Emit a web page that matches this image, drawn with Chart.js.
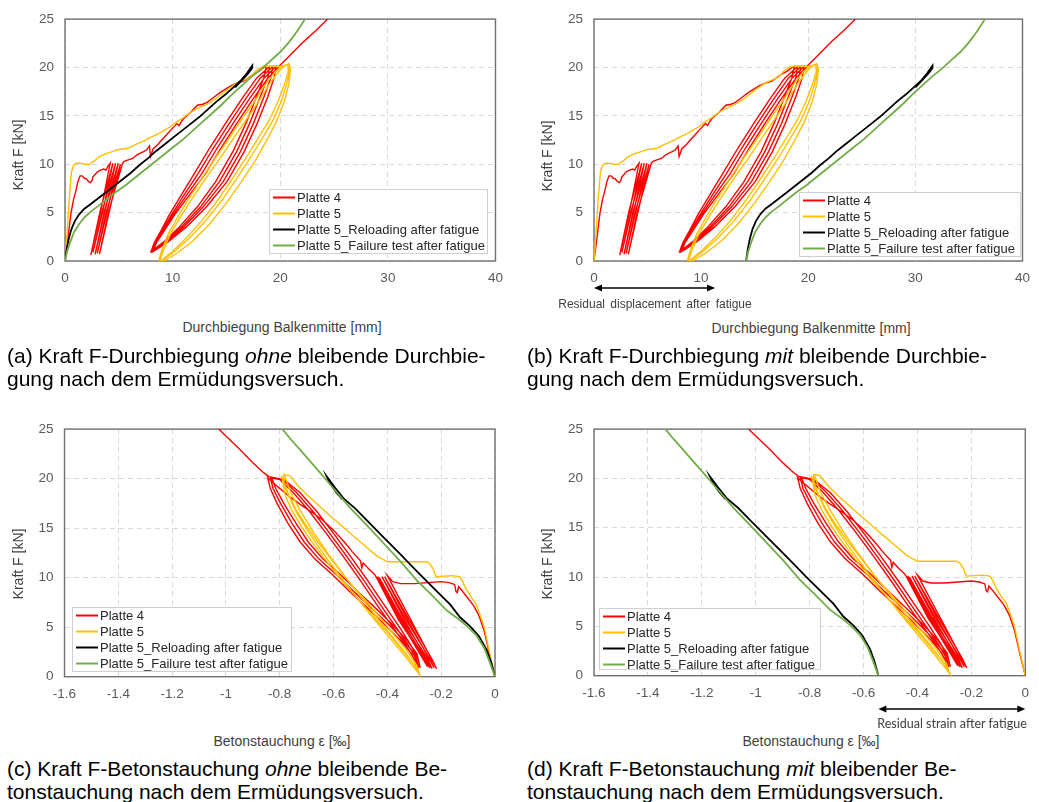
<!DOCTYPE html>
<html>
<head>
<meta charset="utf-8">
<script src="https://cdn.jsdelivr.net/npm/chart.js@4.4.1/dist/chart.umd.min.js"></script>
<style>
    body { margin: 0; background: #fff; width: 1039px; height: 802px; position: relative; overflow: hidden;
           font-family: "Liberation Sans", Arial, sans-serif; }
    canvas { position: absolute; }
    .ytitle { position: absolute; transform: translate(-50%, -50%) rotate(-90deg); font-size: 14px; color: #404040; white-space: nowrap; }
    .xtitle { position: absolute; transform: translate(-50%, -50%); font-size: 14px; color: #404040; white-space: nowrap; }
    .note { position: absolute; transform: translate(-50%, -50%); color: #404040; white-space: nowrap; }
    .cap { position: absolute; font-size: 21px; line-height: 23px; color: #000; white-space: nowrap; }
</style>
</head>
<body>
<canvas id="chartA" width="520" height="300" style="left:0px;top:0px"></canvas>
<canvas id="chartB" width="519" height="300" style="left:520px;top:0px"></canvas>
<canvas id="chartC" width="520" height="300" style="left:0px;top:410px"></canvas>
<canvas id="chartD" width="519" height="310" style="left:520px;top:410px"></canvas>

<div class="ytitle" style="left:18px;top:155px">Kraft F [kN]</div>
<div class="ytitle" style="left:547px;top:156px">Kraft F [kN]</div>
<div class="ytitle" style="left:18px;top:564px">Kraft F [kN]</div>
<div class="ytitle" style="left:547px;top:564px">Kraft F [kN]</div>

<div class="xtitle" style="left:282px;top:327px">Durchbiegung Balkenmitte [mm]</div>
<div class="xtitle" style="left:811px;top:328px">Durchbiegung Balkenmitte [mm]</div>
<div class="xtitle" style="left:282px;top:741px">Betonstauchung ε [‰]</div>
<div class="xtitle" style="left:811px;top:741px">Betonstauchung ε [‰]</div>

<div class="note" style="left:655px;top:304px;font-size:12px;word-spacing:2px">Residual displacement after fatigue</div>
<div class="note" style="left:952px;top:723px;font-size:12.5px;font-family:Lato,sans-serif">Residual strain after fatigue</div>

<div class="cap" style="left:7px;top:344px">(a) Kraft F-Durchbiegung <i>ohne</i> bleibende Durchbie-<br>gung nach dem Ermüdungsversuch.</div>
<div class="cap" style="left:527px;top:344px">(b) Kraft F-Durchbiegung <i>mit</i> bleibende Durchbie-<br>gung nach dem Ermüdungsversuch.</div>
<div class="cap" style="left:7px;top:757px">(c) Kraft F-Betonstauchung <i>ohne</i> bleibende Be-<br>tonstauchung nach dem Ermüdungsversuch.</div>
<div class="cap" style="left:527px;top:757px">(d) Kraft F-Betonstauchung <i>mit</i> bleibender Be-<br>tonstauchung nach dem Ermüdungsversuch.</div>

<script>
// ---- data: [x, F] pairs ----
const seriesLabels = ['Platte 4', 'Platte 5', 'Platte 5_Reloading after fatigue', 'Platte 5_Failure test after fatigue'];

const forceTicks = [0, 5, 10, 15, 20, 25];
const deflTicks = [0, 10, 20, 30, 40];
const strainTicks = [-1.6, -1.4, -1.2, -1, -0.8, -0.6, -0.4, -0.2, 0];
const strainTickLabels = ['-1.6', '-1.4', '-1.2', '-1', '-0.8', '-0.6', '-0.4', '-0.2', '0'];

// arrows under panels (b) and (d), in axis units
const residualDispArrow = [0, 11.3];
const residualStrainArrow = [-0.545, 0];

// Kraft F - Durchbiegung [mm]
const platte4Defl = [
    [0,0],[0.3,2.6],[0.55,4.9],[0.8,6.4],[1.0,7.2],[1.2,8.2],[1.4,8.8],[1.6,8.8],[1.8,8.55],[2.0,8.5],[2.1,8.3],[2.35,8.1],[2.5,8.3],[2.6,8.7],[3.0,9.2],[3.3,9.4],[3.6,9.5],[3.8,9.4],[4.0,9.8],[4.2,10.1],
    [3.35,5.3],[2.4,0.6],[3.25,5.1],[4.45,10.1],
    [3.55,5.3],[2.6,0.9],[3.45,5.1],[4.7,10.1],
    [3.75,5.3],[2.8,0.7],[3.65,5.1],[4.95,10.1],
    [3.95,5.3],[3.0,0.8],[3.85,5.1],[5.15,10.0],
    [4.15,5.3],[3.2,0.7],[4.05,5.1],[5.35,10.1],
    [5.5,10.3],[6.0,10.5],[6.3,10.6],[6.6,10.9],[6.9,11.1],[7.3,11.3],[7.6,11.5],[7.85,11.9],[7.95,10.8],[8.2,11.6],[8.6,12.0],[8.9,12.4],[9.4,13.0],[9.8,13.5],[10.4,14.2],[10.6,14.0],[10.75,14.3],[11.0,14.7],[11.7,15.4],[12.3,16.1],[12.8,16.2],[13.2,16.4],[13.8,16.9],[14.4,17.4],[15.4,18.1],[16.0,18.4],[16.6,18.6],[17.5,19.3],[18.0,19.6],[18.5,20.0],[18.7,20.1],
    [18.5,19.0],[17.8,17.0],[16.8,14.2],[15.6,11.3],[14.0,8.2],[12.3,5.6],[10.6,3.5],[9.2,2.0],[8.3,1.2],[8.0,1.0],
    [8.3,1.9],[8.9,3.1],[9.7,4.8],[10.8,6.8],[12.0,9.0],[13.4,11.6],[14.9,14.2],[16.4,16.7],[17.8,18.9],[18.9,20.0],[19.0,20.1],
    [18.85,19.0],[18.15,17.0],[17.15,14.2],[15.95,11.3],[14.35,8.2],[12.6,5.6],[10.8,3.5],[9.35,2.0],[8.35,1.2],[8.07,1.0],
    [8.37,1.9],[9.0,3.1],[9.9,4.8],[11.05,6.8],[12.35,9.0],[13.75,11.6],[15.25,14.2],[16.75,16.7],[18.15,18.9],[19.2,20.0],[19.3,20.1],
    [19.15,19.0],[18.5,17.0],[17.5,14.2],[16.3,11.3],[14.7,8.2],[12.85,5.6],[11.0,3.5],[9.5,2.0],[8.45,1.2],[8.14,1.0],
    [8.44,1.9],[9.1,3.1],[10.05,4.8],[11.3,6.8],[12.7,9.0],[14.1,11.6],[15.6,14.2],[17.1,16.7],[18.5,18.9],[19.5,20.0],[19.6,20.1],
    [19.45,19.0],[18.85,17.0],[17.85,14.2],[16.65,11.3],[15.05,8.2],[13.15,5.6],[11.25,3.5],[9.6,2.0],[8.5,1.2],[8.2,1.0],
    [8.5,1.9],[9.2,3.1],[10.2,4.8],[11.55,6.8],[13.05,9.0],[14.45,11.6],[15.95,14.2],[17.45,16.7],[18.85,18.9],[19.8,20.0],
    [19.95,20.2],[20.5,20.8],[21.3,21.7],[22.2,22.7],[23.3,23.8],[24.4,25.0],[24.6,25.2]
];

const platte5Defl = [
    [0,0],[0.2,3.0],[0.4,6.5],[0.6,9.2],[0.8,9.9],[1.1,10.1],[1.5,10.1],[1.8,10.0],[2.3,10.0],[2.5,10.2],[2.8,10.4],[3.2,10.8],[3.8,11.1],[4.4,11.3],[4.9,11.5],[5.5,11.6],[5.9,11.65],[6.3,11.9],[6.7,12.1],[7.3,12.4],[8.0,12.8],[8.6,13.1],[9.2,13.5],[9.8,13.9],[10.4,14.4],[11.0,14.8],[11.7,15.4],[12.4,15.8],[13.2,16.2],[13.8,16.6],[14.4,17.1],[15.2,17.8],[16.0,18.4],[16.6,18.7],[17.2,19.0],[17.8,19.7],[18.2,20.0],[18.5,20.1],[19.2,20.15],[20.0,20.1],[20.5,20.2],[20.8,20.4],
    [20.9,20.0],[20.85,19.5],[20.6,18.3],[20.1,16.5],[19.3,14.5],[18.4,12.8],[17.3,10.8],[16.0,8.6],[14.6,6.3],[13.1,4.2],[11.6,2.4],[10.2,1.0],[9.1,0.1],
    [8.8,0.0],[9.2,1.3],[9.8,2.8],[10.8,4.7],[11.9,6.6],[13.1,8.6],[14.4,10.6],[15.6,12.6],[16.9,14.7],[18.0,16.5],[19.0,18.3],[19.8,19.5],[20.4,20.2],[20.7,20.3],
    [20.75,19.6],[20.4,18.3],[19.8,16.5],[18.95,14.5],[18.0,12.8],[16.9,10.8],[15.6,8.6],[14.2,6.3],[12.75,4.2],[11.3,2.4],[10.0,1.0],[9.0,0.1],
    [8.7,0.0],[9.05,1.3],[9.6,2.8],[10.55,4.7],[11.6,6.6],[12.75,8.6],[13.95,10.6],[15.2,12.6],[16.45,14.7],[17.6,16.5],[18.65,18.3],[19.5,19.5],[20.2,20.2],[20.8,20.3],
    [20.95,19.8],[20.8,18.3],[20.35,16.4],[19.6,14.3],[18.75,12.5],[17.7,10.4],[16.4,8.2],[15.0,6.0],[13.5,3.9],[11.9,2.1],[10.4,0.8],[9.2,0.0]
];

const reloadDeflA = [
    [0,0],[0.15,1.2],[0.35,2.3],[0.6,3.3],[0.9,4.1],[1.3,4.8],[1.8,5.4],[2.4,5.9],[3.0,6.4],[3.7,7.0],[4.5,7.7],[5.3,8.4],[6.1,9.1],[6.9,9.9],[7.7,10.6],[8.5,11.4],[9.3,12.1],[10.1,12.8],[10.9,13.5],[11.7,14.2],[12.5,14.9],[13.3,15.7],[14.1,16.5],[14.9,17.2],[15.6,17.9],[16.3,18.6],[16.9,19.4],[17.4,20.2],
    [17.4,19.95],[17.0,19.35],[16.4,18.65],[15.8,17.95]
];
const failureDeflA = [
    [0,0],[0.2,1.0],[0.5,2.0],[0.85,3.0],[1.3,3.8],[1.8,4.5],[2.4,5.1],[3.1,5.7],[3.9,6.4],[4.7,7.1],[5.6,7.8],[6.5,8.6],[7.4,9.4],[8.3,10.2],[9.2,11.0],[10.1,11.8],[11.0,12.6],[11.9,13.5],[12.8,14.4],[13.7,15.3],[14.6,16.2],[15.5,17.2],[16.4,18.1],[17.3,19.0],[18.2,19.8],[19.1,20.7],[20.0,21.6],[20.8,22.6],[21.6,23.8],[22.3,25.0]
];
const reloadDeflB = [
    [14.2,0],[14.35,1.2],[14.55,2.3],[14.8,3.3],[15.1,4.1],[15.5,4.8],[16.0,5.4],[16.6,5.9],[17.2,6.4],[17.9,7.0],[18.7,7.7],[19.5,8.4],[20.3,9.1],[21.1,9.9],[21.9,10.6],[22.7,11.4],[23.5,12.1],[24.3,12.8],[25.1,13.5],[25.9,14.2],[26.7,14.9],[27.5,15.7],[28.3,16.5],[29.1,17.2],[29.8,17.9],[30.5,18.6],[31.1,19.4],[31.6,20.2],
    [31.6,19.95],[31.2,19.35],[30.6,18.65],[30.0,17.95]
];
const failureDeflB = [
    [14.2,0],[14.4,1.0],[14.7,2.0],[15.05,3.0],[15.5,3.8],[16.0,4.5],[16.6,5.1],[17.3,5.7],[18.1,6.4],[18.9,7.1],[19.8,7.8],[20.7,8.6],[21.6,9.4],[22.5,10.2],[23.4,11.0],[24.3,11.8],[25.2,12.6],[26.1,13.5],[27.0,14.4],[27.9,15.3],[28.8,16.2],[29.7,17.2],[30.6,18.1],[31.5,19.0],[32.4,19.8],[33.3,20.7],[34.2,21.6],[35.0,22.6],[35.8,23.8],[36.5,25.0]
];

// Kraft F - Betonstauchung [permille]
const platte4Strain = [
    [0,0],[-0.02,2.2],[-0.04,4.6],[-0.06,6.2],[-0.08,7.2],[-0.1,7.9],[-0.12,8.6],[-0.135,9.1],[-0.14,8.5],[-0.145,8.6],[-0.15,9.3],[-0.17,9.5],[-0.2,9.6],[-0.25,9.5],[-0.3,9.4],[-0.35,9.4],[-0.38,9.6],[-0.40,10.2],
    [-0.31,5.6],[-0.217,0.8],[-0.235,1.8],[-0.32,5.8],[-0.41,10.1],
    [-0.322,5.6],[-0.226,0.9],[-0.242,1.8],[-0.332,5.8],[-0.42,10.1],
    [-0.334,5.6],[-0.234,0.8],[-0.25,1.8],[-0.344,5.8],[-0.43,10.0],
    [-0.344,5.6],[-0.242,0.9],[-0.258,1.8],[-0.352,5.8],[-0.436,10.1],
    [-0.352,5.6],[-0.25,1.0],[-0.266,1.9],[-0.36,5.8],[-0.442,10.1],
    [-0.45,10.4],[-0.47,10.9],[-0.49,11.5],[-0.495,11.0],[-0.50,11.7],[-0.53,12.6],[-0.56,13.6],[-0.60,14.8],[-0.64,15.8],[-0.68,16.6],[-0.724,17.4],[-0.76,18.1],[-0.8,19.0],[-0.83,19.7],[-0.845,20.1],
    [-0.835,19.0],[-0.81,17.5],[-0.77,15.5],[-0.724,13.6],[-0.67,11.9],[-0.6,10.2],[-0.54,8.6],[-0.477,7.0],[-0.415,5.4],[-0.353,3.7],[-0.31,2.3],[-0.29,1.0],
    [-0.3,1.8],[-0.335,3.3],[-0.38,5.0],[-0.44,7.3],[-0.5,9.7],[-0.56,12.0],[-0.625,14.4],[-0.69,16.7],[-0.75,18.6],[-0.8,19.9],[-0.835,20.1],
    [-0.825,19.0],[-0.797,17.5],[-0.755,15.5],[-0.709,13.6],[-0.655,11.9],[-0.585,10.2],[-0.525,8.6],[-0.462,7.0],[-0.4,5.4],[-0.34,3.7],[-0.3,2.3],[-0.284,0.9],
    [-0.293,1.8],[-0.325,3.3],[-0.368,5.0],[-0.427,7.3],[-0.487,9.7],[-0.547,12.0],[-0.612,14.4],[-0.677,16.7],[-0.738,18.6],[-0.79,19.9],[-0.83,20.1],
    [-0.815,19.0],[-0.785,17.5],[-0.74,15.5],[-0.694,13.6],[-0.64,11.9],[-0.57,10.2],[-0.51,8.6],[-0.447,7.0],[-0.386,5.4],[-0.328,3.7],[-0.29,2.3],[-0.278,0.9],
    [-0.287,1.8],[-0.315,3.3],[-0.355,5.0],[-0.413,7.3],[-0.473,9.7],[-0.533,12.0],[-0.598,14.4],[-0.663,16.7],[-0.725,18.6],[-0.785,19.9],[-0.84,20.2],
    [-0.86,20.6],[-0.9,21.6],[-0.95,23.0],[-1.0,24.3],[-1.03,25.1]
];

const platte5Strain = [
    [0,0],[-0.01,1.2],[-0.02,2.4],[-0.03,3.7],[-0.039,4.9],[-0.055,6.2],[-0.07,7.3],[-0.085,7.9],[-0.095,8.3],[-0.11,9.0],[-0.12,9.6],[-0.131,10.1],[-0.16,10.2],[-0.19,10.15],[-0.218,10.1],[-0.225,10.5],[-0.23,10.9],[-0.245,11.5],[-0.256,11.6],[-0.3,11.6],[-0.35,11.6],[-0.40,11.6],[-0.44,12.2],[-0.487,13.3],[-0.535,14.4],[-0.585,15.6],[-0.64,16.9],[-0.696,18.3],[-0.73,19.2],[-0.763,20.3],[-0.785,20.4],
    [-0.79,19.8],[-0.78,18.3],[-0.755,16.8],[-0.72,15.2],[-0.68,13.6],[-0.63,11.8],[-0.58,10.0],[-0.52,8.2],[-0.46,6.3],[-0.40,4.5],[-0.345,2.7],[-0.3,1.2],[-0.276,0],
    [-0.29,0.8],[-0.33,2.3],[-0.38,4.0],[-0.44,6.0],[-0.5,8.1],[-0.56,10.2],[-0.62,12.4],[-0.675,14.6],[-0.72,16.6],[-0.76,18.6],[-0.78,20.2],
    [-0.785,19.6],[-0.765,18.3],[-0.738,16.8],[-0.7,15.2],[-0.658,13.6],[-0.607,11.8],[-0.556,10.0],[-0.497,8.2],[-0.437,6.3],[-0.383,4.5],[-0.33,2.7],[-0.292,1.2],[-0.28,0.2],
    [-0.3,0.9],[-0.345,2.4],[-0.397,4.1],[-0.458,6.1],[-0.52,8.2],[-0.58,10.3],[-0.64,12.5],[-0.695,14.7],[-0.74,16.7],[-0.775,18.7],[-0.795,20.3]
];

const reloadStrainC = [
    [0,0],[-0.015,1.5],[-0.031,2.7],[-0.06,4.1],[-0.093,5.1],[-0.13,6.0],[-0.167,7.3],[-0.215,8.6],[-0.267,10.0],[-0.31,11.2],[-0.353,12.4],[-0.415,14.1],[-0.477,15.8],[-0.52,17.0],[-0.563,18.0],[-0.595,19.1],[-0.625,20.2],
    [-0.615,19.6],[-0.59,18.6],[-0.567,17.9]
];
const failureStrainC = [
    [0,0],[-0.02,1.5],[-0.04,2.9],[-0.07,4.2],[-0.1,5.0],[-0.13,5.7],[-0.18,6.7],[-0.23,8.1],[-0.29,9.7],[-0.353,11.7],[-0.415,13.5],[-0.477,15.3],[-0.54,17.1],[-0.6,19.0],[-0.66,20.9],[-0.724,22.9],[-0.76,24.0],[-0.79,25.0]
];
const reloadStrainD = [
    [-0.545,0],[-0.56,1.5],[-0.576,2.7],[-0.605,4.1],[-0.638,5.1],[-0.675,6.0],[-0.712,7.3],[-0.76,8.6],[-0.812,10.0],[-0.855,11.2],[-0.898,12.4],[-0.96,14.1],[-1.022,15.8],[-1.065,17.0],[-1.108,18.0],[-1.14,19.1],[-1.17,20.2],
    [-1.16,19.6],[-1.135,18.6],[-1.112,17.9]
];
const failureStrainD = [
    [-0.545,0],[-0.565,1.5],[-0.585,2.9],[-0.615,4.2],[-0.645,5.0],[-0.675,5.7],[-0.725,6.7],[-0.775,8.1],[-0.835,9.7],[-0.898,11.7],[-0.96,13.5],[-1.022,15.3],[-1.085,17.1],[-1.145,19.0],[-1.205,20.9],[-1.269,22.9],[-1.305,24.0],[-1.335,25.0]
];

// ---- drawing ----
Chart.defaults.font.family = '"Liberation Sans", Arial, sans-serif';
Chart.defaults.color = '#595959';

const seriesColors = ['#ff0000', '#ffc000', '#000000', '#70ad47'];
const seriesWidths = [1.4, 1.4, 1.8, 1.8];

function toPoints(arr) {
    return arr.map(p => ({ x: p[0], y: p[1] }));
}

function buildDatasets(lists) {
    return lists.map((list, i) => ({
        label: seriesLabels[i],
        data: toPoints(list),
        borderColor: seriesColors[i],
        backgroundColor: seriesColors[i],
        borderWidth: seriesWidths[i],
        pointRadius: 0,
        showLine: true,
        fill: false,
        tension: 0,
        order: 4 - i   // green drawn on top, like the spreadsheet
    }));
}

// full box around the plot area
const framePlugin = {
    id: 'plotFrame',
    beforeDatasetsDraw(chart) {
        const a = chart.chartArea, ctx = chart.ctx;
        ctx.save();
        ctx.strokeStyle = '#707070';
        ctx.lineWidth = 1.4;
        ctx.strokeRect(a.left, a.top, a.right - a.left, a.bottom - a.top);
        ctx.restore();
    }
};

// legend box inside the plot, x/y in canvas pixels
function boxLegend(box) {
    return {
        id: 'boxLegend',
        afterDatasetsDraw(chart) {
            const ctx = chart.ctx;
            ctx.save();
            ctx.fillStyle = '#ffffff';
            ctx.fillRect(box.x, box.y, box.w, box.h);
            ctx.strokeStyle = '#d0d0d0';
            ctx.lineWidth = 1;
            ctx.strokeRect(box.x + 0.5, box.y + 0.5, box.w, box.h);
            ctx.font = '13px "Liberation Sans", Arial, sans-serif';
            ctx.textBaseline = 'middle';
            chart.data.datasets.forEach((ds, i) => {
                const y = box.y + 8.5 + i * 16;
                ctx.strokeStyle = ds.borderColor;
                ctx.lineWidth = 2;
                ctx.beginPath();
                ctx.moveTo(box.x + 4, y);
                ctx.lineTo(box.x + 26, y);
                ctx.stroke();
                ctx.fillStyle = '#262626';
                ctx.fillText(ds.label, box.x + 28, y + 0.5);
            });
            ctx.restore();
        }
    };
}

// double headed arrow below the x axis
function underArrow(range, y) {
    return {
        id: 'underArrow',
        afterDraw(chart) {
            const sx = chart.scales.x, ctx = chart.ctx;
            const x0 = sx.getPixelForValue(range[0]);
            const x1 = sx.getPixelForValue(range[1]);
            ctx.save();
            ctx.strokeStyle = '#000';
            ctx.fillStyle = '#000';
            ctx.lineWidth = 1.3;
            ctx.beginPath();
            ctx.moveTo(x0 + 5, y);
            ctx.lineTo(x1 - 5, y);
            ctx.stroke();
            [[x0, 1], [x1, -1]].forEach(([x, d]) => {
                ctx.beginPath();
                ctx.moveTo(x, y);
                ctx.lineTo(x + d * 8, y - 3.5);
                ctx.lineTo(x + d * 8, y + 3.5);
                ctx.closePath();
                ctx.fill();
            });
            ctx.restore();
        }
    };
}

function createPanel(canvasId, cfg) {
    const canvas = document.getElementById(canvasId);
    const w = canvas.width;
    const a = cfg.area;
    const plugins = [framePlugin, boxLegend(cfg.legend)];
    if (cfg.arrow) plugins.push(underArrow(cfg.arrow.range, cfg.arrow.y));

    return new Chart(canvas, {
        type: 'scatter',
        data: { datasets: buildDatasets(cfg.series) },
        options: {
            responsive: false,
            animation: false,
            layout: { padding: { left: 0, top: a.top, right: w - a.right, bottom: 0 } },
            scales: {
                x: {
                    type: 'linear',
                    min: cfg.xTicks[0],
                    max: cfg.xTicks[cfg.xTicks.length - 1],
                    afterBuildTicks: s => { s.ticks = cfg.xTicks.map(v => ({ value: v })); },
                    afterFit: s => { s.height = a.xh; },
                    ticks: {
                        callback: (v, i) => cfg.xLabels[i],
                        font: { size: 13.5 },
                        color: '#595959',
                        padding: 9,
                        maxRotation: 0,
                        autoSkip: false
                    },
                    grid: { color: '#d9d9d9', lineWidth: 1, drawTicks: false },
                    border: { display: false, dash: [5, 4] }
                },
                y: {
                    type: 'linear',
                    min: 0,
                    max: 25,
                    afterBuildTicks: s => { s.ticks = forceTicks.map(v => ({ value: v })); },
                    afterFit: s => { s.width = a.left; },
                    ticks: {
                        font: { size: 13.5 },
                        color: '#595959',
                        padding: 11
                    },
                    grid: { color: '#d9d9d9', lineWidth: 1, drawTicks: false },
                    border: { display: false, dash: [5, 4] }
                }
            },
            plugins: {
                legend: { display: false },
                tooltip: { enabled: false }
            }
        },
        plugins: plugins
    });
}

createPanel('chartA', {
    area: { left: 65, top: 16, right: 495.5, xh: 39 },
    xTicks: deflTicks, xLabels: deflTicks.map(String),
    series: [platte4Defl, platte5Defl, reloadDeflA, failureDeflA],
    legend: { x: 269, y: 189, w: 218, h: 64 }
});

createPanel('chartB', {
    area: { left: 74, top: 16, right: 506, xh: 39 },
    xTicks: deflTicks, xLabels: deflTicks.map(String),
    series: [platte4Defl, platte5Defl, reloadDeflB, failureDeflB],
    legend: { x: 279, y: 192, w: 221, h: 64 },
    arrow: { range: residualDispArrow, y: 288 }
});

createPanel('chartC', {
    area: { left: 64.5, top: 16.7, right: 495, xh: 33.3 },
    xTicks: strainTicks, xLabels: strainTickLabels,
    series: [platte4Strain, platte5Strain, reloadStrainC, failureStrainC],
    legend: { x: 72, y: 197, w: 219, h: 64 }
});

createPanel('chartD', {
    area: { left: 74, top: 16.7, right: 505.3, xh: 44.3 },
    xTicks: strainTicks, xLabels: strainTickLabels,
    series: [platte4Strain, platte5Strain, reloadStrainD, failureStrainD],
    legend: { x: 79, y: 198, w: 221, h: 61 },
    arrow: { range: residualStrainArrow, y: 299 }
});
</script>
</body>
</html>
